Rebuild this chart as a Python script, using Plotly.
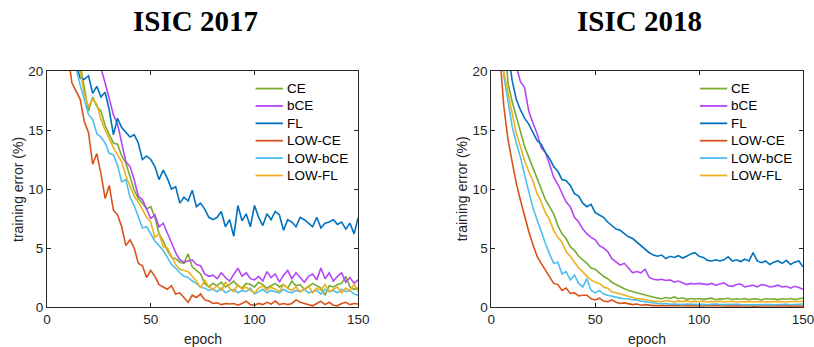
import plotly.graph_objects as go

EPOCHS = list(range(0, 151, 2))
SERIES = ["CE", "bCE", "FL", "LOW-CE", "LOW-bCE", "LOW-FL"]
COLORS = ["#77AC30", "#B446F5", "#0072BD", "#D95319", "#4DBEEE", "#EDB120"]
TITLES = ["ISIC 2017", "ISIC 2018"]
X_LABEL = "epoch"
Y_LABEL = "training error (%)"

# ---------------- ISIC 2017 ----------------
CE_2017 = [42, 38, 34, 31, 28, 26, 24, 22.2, 20.5, 18.6,
           16.6, 17.8, 17.0, 16.6, 15.4, 14.6, 13.9, 13.8, 12.8, 12.2,
           11.0, 9.9, 9.2, 8.8, 8.3, 8.5, 7.6, 6.2, 5.6, 4.8,
           4.2, 4.1, 3.8, 3.7, 4.5, 3.4, 3.1, 2.8, 2.0, 1.7,
           2.0, 1.8, 2.1, 1.7, 1.9, 2.2, 1.8, 1.6, 2.0, 1.9,
           1.7, 2.1, 1.9, 1.6, 1.8, 2.0, 1.7, 1.9, 1.6, 2.2,
           1.8, 1.9, 1.5, 1.7, 2.0, 1.8, 1.6, 1.0, 1.8, 1.7,
           1.9, 2.0, 2.6, 1.7, 1.5, 1.6]
BCE_2017 = [50, 46, 42, 39, 36, 33, 30.5, 28.5, 26.5, 24.5,
            23.0, 22.0, 21.0, 20.2, 19.0, 17.6, 16.3, 15.5, 13.8, 12.3,
            11.9, 10.8, 9.4, 9.1, 8.3, 7.5, 7.8, 6.8, 7.1, 6.3,
            5.4, 4.6, 4.0, 3.8, 3.9, 4.0, 3.6, 3.5, 2.8, 2.6,
            2.7, 2.4, 2.9, 2.5, 2.2, 2.8, 3.3, 2.6, 2.9, 2.4,
            2.3, 2.6, 2.2, 3.0, 2.5, 2.8, 2.1, 2.7, 3.1, 2.4,
            2.9, 2.5, 2.1, 2.6, 2.8, 2.3, 3.3, 2.4, 2.9, 2.2,
            2.6, 2.9, 2.1, 2.5, 2.0, 2.3]
FL_2017 = [38, 34, 30, 27, 24.5, 22.5, 21.3, 20.6, 19.4, 19.3,
           19.6, 18.1, 18.7, 17.8, 18.2, 16.7, 14.6, 16.0, 15.2, 14.8,
           14.4, 14.6, 13.9, 12.5, 12.8, 12.5, 11.9, 10.8, 11.6, 10.9,
           10.0, 10.2, 8.8, 9.3, 9.0, 9.9, 8.5, 8.8, 8.3, 7.6,
           7.4, 7.6, 8.1, 6.8, 7.4, 6.0, 8.6, 7.3, 7.9, 6.8,
           8.6, 7.6, 6.9, 7.9, 7.4, 8.1, 7.8, 6.5, 7.4, 7.2,
           6.8, 7.6, 7.4, 7.1, 6.8, 7.6, 6.7, 7.1, 7.2, 7.4,
           7.0, 7.2, 6.6, 7.1, 6.2, 7.6]
LOWCE_2017 = [38, 34, 30, 27, 24, 21.5, 19.0, 18.3, 17.6, 15.7,
              14.8, 12.1, 13.0, 11.3, 9.2, 10.3, 8.2, 7.8, 6.8, 5.2,
              5.7, 5.0, 3.7, 3.5, 2.5, 3.1, 2.6, 1.9, 1.7, 1.5,
              1.8, 1.1, 1.2, 0.8, 0.4, 1.0, 0.8, 1.1, 0.6, 0.5,
              0.3, 0.35, 0.2, 0.3, 0.25, 0.3, 0.15, 0.3, 0.5, 0.2,
              0.15, 0.3, 0.2, 0.4, 0.25, 0.5, 0.2, 0.3, 0.2, 0.3,
              0.6, 0.4, 0.3, 0.2, 0.1, 0.3, 0.5, 0.2, 0.4, 0.15,
              0.1, 0.3, 0.4, 0.2, 0.3, 0.25]
LOWBCE_2017 = [40, 36, 32, 29, 26, 24, 22, 20.2, 18.8, 17.5,
               16.3, 15.9, 14.7, 14.4, 13.9, 13.0, 12.9, 12.0, 10.6, 10.8,
               9.3, 8.6, 7.7, 6.7, 6.8, 6.2, 5.6, 5.2, 4.8, 4.2,
               3.6, 3.3, 2.9, 2.6, 2.5, 2.2, 2.0, 1.7, 1.6, 1.4,
               1.5, 1.3, 1.6, 1.2, 1.4, 1.5, 1.2, 1.4, 1.3, 1.6,
               1.1, 1.3, 1.5, 1.2, 1.4, 1.3, 1.2, 1.5, 1.3, 1.2,
               1.4, 1.3, 1.5, 1.2, 1.3, 1.4, 1.1, 1.5, 1.3, 1.4,
               1.2, 1.5, 1.3, 1.4, 1.1, 1.0]
LOWFL_2017 = [41, 37, 33, 30, 27, 25, 23, 21.5, 20.0, 18.0,
              17.0, 17.6, 17.2, 15.9, 15.0, 14.2, 13.5, 12.9, 12.3, 11.1,
              10.2, 9.4, 8.9, 8.3, 7.6, 7.2, 5.9, 6.2, 5.1, 5.0,
              4.3, 3.6, 3.2, 3.1, 3.0, 2.6, 2.2, 1.6, 2.3, 1.7,
              1.5, 1.8, 1.4, 2.1, 1.6, 1.3, 1.9, 1.5, 1.7, 1.4,
              1.2, 1.6, 1.8, 1.4, 1.7, 1.5, 1.3, 1.9, 1.6, 1.4,
              1.7, 1.3, 1.5, 1.8, 1.2, 1.6, 1.4, 1.9, 1.3, 1.5,
              1.7, 1.2, 1.6, 1.4, 1.9, 1.3]

# ---------------- ISIC 2018 ----------------
CE_2018 = [55, 40, 30, 23.5, 19.0, 17.4, 16.1, 15.0, 13.6, 12.7,
           11.8, 11.0, 10.1, 9.1, 8.5, 7.9, 6.9, 6.2, 5.8, 5.1,
           4.8, 4.3, 4.0, 3.7, 3.3, 3.2, 2.9, 2.6, 2.4, 2.1,
           1.9, 1.7, 1.55, 1.4, 1.3, 1.25, 1.1, 1.05, 0.95, 0.8,
           0.75, 0.7, 0.8, 0.72, 0.85, 0.7, 0.78, 0.65, 0.72, 0.68,
           0.72, 0.65, 0.7, 0.75, 0.62, 0.7, 0.68, 0.74, 0.64, 0.7,
           0.66, 0.72, 0.62, 0.7, 0.68, 0.6, 0.72, 0.66, 0.7, 0.63,
           0.7, 0.66, 0.72, 0.64, 0.7, 0.75]
BCE_2018 = [60, 48, 38, 31, 26, 22.5, 20.4, 19.1, 18.6, 16.6,
            15.6, 14.7, 13.5, 13.1, 12.1, 11.0, 10.4, 9.6, 8.9, 8.5,
            7.6, 7.2, 6.6, 6.2, 5.9, 5.7, 5.2, 5.0, 4.7, 4.1,
            3.8, 3.55, 3.7, 3.3, 2.9, 3.0, 2.9, 3.2, 2.5, 2.35,
            2.3, 2.35, 2.25, 2.3, 2.1, 2.2, 2.05, 1.9, 2.0, 1.95,
            2.0, 1.95, 1.9, 2.0, 1.85, 1.95, 2.05, 1.8, 1.75, 1.9,
            1.95, 1.7, 1.75, 1.85, 1.7, 1.9, 1.85, 1.7, 1.75, 1.85,
            1.7, 1.75, 1.6, 1.75, 1.65, 1.5]
FL_2018 = [50, 38, 30, 25, 21.8, 19.2, 17.6, 16.7, 16.0, 15.5,
           14.8, 14.1, 13.8, 13.1, 12.6, 11.9, 11.5, 10.8, 10.7, 10.3,
           9.6, 9.4, 8.8, 8.5, 8.7, 8.0, 7.8, 7.6, 7.2, 6.9,
           6.6, 6.5, 6.2, 5.95, 5.8, 5.5, 5.25, 4.95, 4.6, 4.4,
           4.3, 4.4, 4.1, 4.3, 4.2, 4.35, 4.15, 4.3, 4.5, 4.6,
           4.3, 4.2, 3.95, 3.9, 4.0, 3.9, 4.0, 4.25, 3.9, 4.0,
           3.85, 4.05, 3.9, 4.6, 3.9, 3.75, 3.9, 3.6, 3.8, 3.9,
           3.7, 3.95, 3.6, 3.8, 3.9, 3.4]
LOWCE_2018 = [45, 32, 21.5, 17.0, 14.2, 12.3, 10.5, 9.05, 7.7, 6.4,
              5.3, 4.3, 3.7, 3.1, 2.6, 2.0, 1.9, 1.4, 1.6, 1.15,
              1.2, 0.95, 1.0, 1.0, 0.7, 0.6, 0.75, 0.5, 0.45, 0.6,
              0.4, 0.3, 0.35, 0.25, 0.2, 0.25, 0.15, 0.2, 0.15, 0.12,
              0.12, 0.1, 0.13, 0.09, 0.1, 0.12, 0.08, 0.1, 0.11, 0.09,
              0.1, 0.08, 0.1, 0.12, 0.09, 0.1, 0.08, 0.1, 0.09, 0.1,
              0.08, 0.1, 0.09, 0.07, 0.1, 0.08, 0.09, 0.1, 0.07, 0.09,
              0.08, 0.1, 0.07, 0.09, 0.08, 0.08]
LOWBCE_2018 = [48, 34, 25, 19.6, 17.3, 15.3, 13.9, 12.7, 11.2, 9.8,
               8.4, 7.4, 6.3, 5.4, 4.5, 3.7, 3.8, 2.8, 3.0, 2.3,
               2.7, 2.0, 1.7, 2.4, 1.4, 1.2, 1.4, 1.1, 1.0, 0.9,
               0.8, 0.75, 0.7, 0.7, 0.6, 0.6, 0.5, 0.45, 0.35, 0.3,
               0.28, 0.25, 0.3, 0.22, 0.26, 0.24, 0.2, 0.25, 0.22, 0.24,
               0.2, 0.23, 0.19, 0.22, 0.25, 0.2, 0.22, 0.18, 0.2, 0.23,
               0.21, 0.19, 0.22, 0.2, 0.18, 0.21, 0.23, 0.2, 0.19, 0.22,
               0.2, 0.23, 0.19, 0.21, 0.24, 0.25]
LOWFL_2018 = [50, 36, 26, 19.9, 18.1, 16.3, 14.7, 13.6, 12.4, 11.5,
              10.7, 9.6, 8.9, 8.0, 7.4, 6.5, 5.9, 5.5, 4.7, 4.3,
              3.8, 3.3, 3.0, 2.6, 2.3, 2.1, 2.0, 1.7, 1.6, 1.3,
              1.2, 1.1, 1.0, 0.9, 0.85, 0.7, 0.7, 0.6, 0.55, 0.5,
              0.5, 0.45, 0.55, 0.48, 0.42, 0.5, 0.46, 0.52, 0.44, 0.48,
              0.45, 0.5, 0.42, 0.47, 0.44, 0.5, 0.43, 0.46, 0.49, 0.42,
              0.46, 0.44, 0.48, 0.42, 0.45, 0.47, 0.43, 0.46, 0.44, 0.48,
              0.45, 0.42, 0.47, 0.44, 0.46, 0.48]

DATA = [
    [CE_2017, BCE_2017, FL_2017, LOWCE_2017, LOWBCE_2017, LOWFL_2017],
    [CE_2018, BCE_2018, FL_2018, LOWCE_2018, LOWBCE_2018, LOWFL_2018],
]

W, H = 814, 347
AX_X = [(47.3, 358.3), (491.3, 802.7)]   # px
AX_TOP, AX_BOT = 70.7, 307.0
ML = AX_X[0][0]
MR = W - AX_X[1][1]
MT = AX_TOP
MB = H - AX_BOT
PW = W - ML - MR
PH = H - MT - MB
TXT = "#262626"
FONT = "Liberation Sans, Arial, sans-serif"


def px_x(wx):
    return (wx - ML) / PW


def px_y(wy):
    return (H - MB - wy) / PH


fig = go.Figure()
for p in range(2):
    sfx = "" if p == 0 else str(p + 1)
    for name, color, vals in zip(SERIES, COLORS, DATA[p]):
        fig.add_trace(go.Scatter(
            x=EPOCHS, y=vals, mode="lines", name=name,
            line=dict(color=color, width=1.6),
            xaxis="x" + sfx, yaxis="y" + sfx, showlegend=False,
        ))

layout = dict(
    width=W, height=H, margin=dict(l=ML, r=MR, t=MT, b=MB, autoexpand=False),
    paper_bgcolor="white", plot_bgcolor="white",
    font=dict(family=FONT, color=TXT, size=13),
    showlegend=False,
)
for p in range(2):
    sfx = "" if p == 0 else str(p + 1)
    layout["xaxis" + sfx] = dict(
        domain=[max(0, px_x(AX_X[p][0])), min(1, px_x(AX_X[p][1]))], range=[0, 150],
        tickvals=[0, 50, 100, 150], ticks="inside", ticklen=4,
        tickcolor=TXT, showline=True, linecolor=TXT, linewidth=1,
        mirror="ticks", showgrid=False, zeroline=False, automargin=False,
        anchor="y" + sfx, tickfont=dict(size=13.5, color=TXT),
        ticklabeloverflow="allow",
    )
    layout["yaxis" + sfx] = dict(
        domain=[0, 1], range=[0, 20], tickvals=[0, 5, 10, 15, 20],
        ticks="inside", ticklen=4, tickcolor=TXT, showline=True,
        linecolor=TXT, linewidth=1, mirror="ticks", showgrid=False,
        zeroline=False, automargin=False, anchor="x" + sfx,
        tickfont=dict(size=13.5, color=TXT), ticklabeloverflow="allow",
    )
fig.update_layout(**layout)

shapes = []
for p in range(2):
    x0 = AX_X[p][0]
    cx = (AX_X[p][0] + AX_X[p][1]) / 2
    # titles
    fig.add_annotation(
        text="<b>%s</b>" % TITLES[p], x=px_x([196, 639][p]), y=px_y(20.5),
        xref="paper", yref="paper", xanchor="center", yanchor="middle",
        showarrow=False, borderpad=0,
        font=dict(family="Liberation Serif, Times New Roman, serif", size=29, color="black"),
    )
    # axis titles
    fig.add_annotation(
        text=X_LABEL, x=px_x(cx), y=px_y(339), xref="paper", yref="paper",
        xanchor="center", yanchor="middle", showarrow=False, borderpad=0,
        font=dict(size=14, color=TXT),
    )
    fig.add_annotation(
        text=Y_LABEL, x=px_x(x0 - 29), y=px_y((AX_TOP + AX_BOT) / 2),
        xref="paper", yref="paper", xanchor="center", yanchor="middle",
        textangle=-90, showarrow=False, font=dict(size=14, color=TXT),
    )
    # legend (box off), one row per series
    for i, (name, color) in enumerate(zip(SERIES, COLORS)):
        ry = 88.3 + 17.4 * i
        lx0 = x0 + 208.4
        shapes.append(dict(
            type="line", xref="paper", yref="paper",
            x0=px_x(lx0), x1=px_x(lx0 + 27.3), y0=px_y(ry), y1=px_y(ry),
            line=dict(color=color, width=1.8),
        ))
        fig.add_annotation(
            text=name, x=px_x(lx0 + 29.5), y=px_y(ry), xref="paper", yref="paper",
            xanchor="left", yanchor="middle", showarrow=False,
            font=dict(size=13.5, color="black"),
        )
fig.update_layout(shapes=shapes)

# remove the page's default 8px body margin so the figure sits at the window origin
fig.write_html("out.html", config={"displayModeBar": False},
               post_script="document.body.style.margin='0px';")
